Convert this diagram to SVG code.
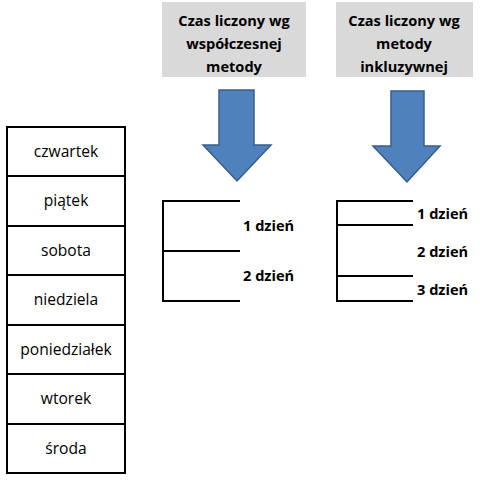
<svg xmlns="http://www.w3.org/2000/svg" width="480" height="480" viewBox="0 0 480 480">
<style>
.hdr{fill:#d9d9d9}
.ht{font-family:"Open Sans","Liberation Sans",sans-serif;font-weight:bold;font-size:14.6px;fill:#000;text-anchor:middle}
.arrow{fill:#4f81bd;stroke:#385d8a;stroke-width:1.5}
.cell{fill:#fff;stroke:#000;stroke-width:2}
.dt{font-family:"Open Sans","Liberation Sans",sans-serif;font-size:15.6px;fill:#000;text-anchor:middle}
.ln{stroke:#000;stroke-width:2;fill:none}
.lt{font-family:"Open Sans","Liberation Sans",sans-serif;font-weight:bold;font-size:14.6px;fill:#000}
</style>
<rect width="480" height="480" fill="#fff"/>
<g id="header1">
<rect class="hdr" x="162" y="2" width="144" height="75"/>
<text class="ht" x="234" y="26">Czas liczony wg</text>
<text class="ht" x="234" y="49">współczesnej</text>
<text class="ht" x="234" y="72">metody</text>
</g>
<g id="header2">
<rect class="hdr" x="336" y="2" width="137" height="75"/>
<text class="ht" x="404" y="26">Czas liczony wg</text>
<text class="ht" x="404" y="49">metody</text>
<text class="ht" x="404" y="72">inkluzywnej</text>
</g>
<g id="arrow1">
<path class="arrow" d="M219,90 H254 V145 H271 L237,181 L203,145 H219 Z"/>
</g>
<g id="arrow2">
<path class="arrow" d="M391,91 H424 V146 H440 L407,182 L373,146 H391 Z"/>
</g>
<g id="days">
<rect class="cell" x="7" y="127" width="118" height="49"/>
<text class="dt" x="66" y="157">czwartek</text>
<rect class="cell" x="7" y="176" width="118" height="50"/>
<text class="dt" x="66" y="206">piątek</text>
<rect class="cell" x="7" y="226" width="118" height="49"/>
<text class="dt" x="66" y="256">sobota</text>
<rect class="cell" x="7" y="275" width="118" height="50"/>
<text class="dt" x="66" y="305">niedziela</text>
<rect class="cell" x="7" y="325" width="118" height="49"/>
<text class="dt" x="66" y="355">poniedziałek</text>
<rect class="cell" x="7" y="374" width="118" height="50"/>
<text class="dt" x="66" y="404">wtorek</text>
<rect class="cell" x="7" y="424" width="118" height="49"/>
<text class="dt" x="66" y="454">środa</text>
</g>
<g id="connectors">
<path class="ln" d="M240,201 H163 V301 H240 M163,251 H240"/>
<path class="ln" d="M413,201 H337 V301 H413 M337,225 H413 M337,276 H413"/>
</g>
<g id="labels1">
<text class="lt" x="243" y="231">1 dzień</text>
<text class="lt" x="243" y="281">2 dzień</text>
</g>
<g id="labels2">
<text class="lt" x="417" y="219">1 dzień</text>
<text class="lt" x="417" y="257">2 dzień</text>
<text class="lt" x="417" y="295">3 dzień</text>
</g>
</svg>
